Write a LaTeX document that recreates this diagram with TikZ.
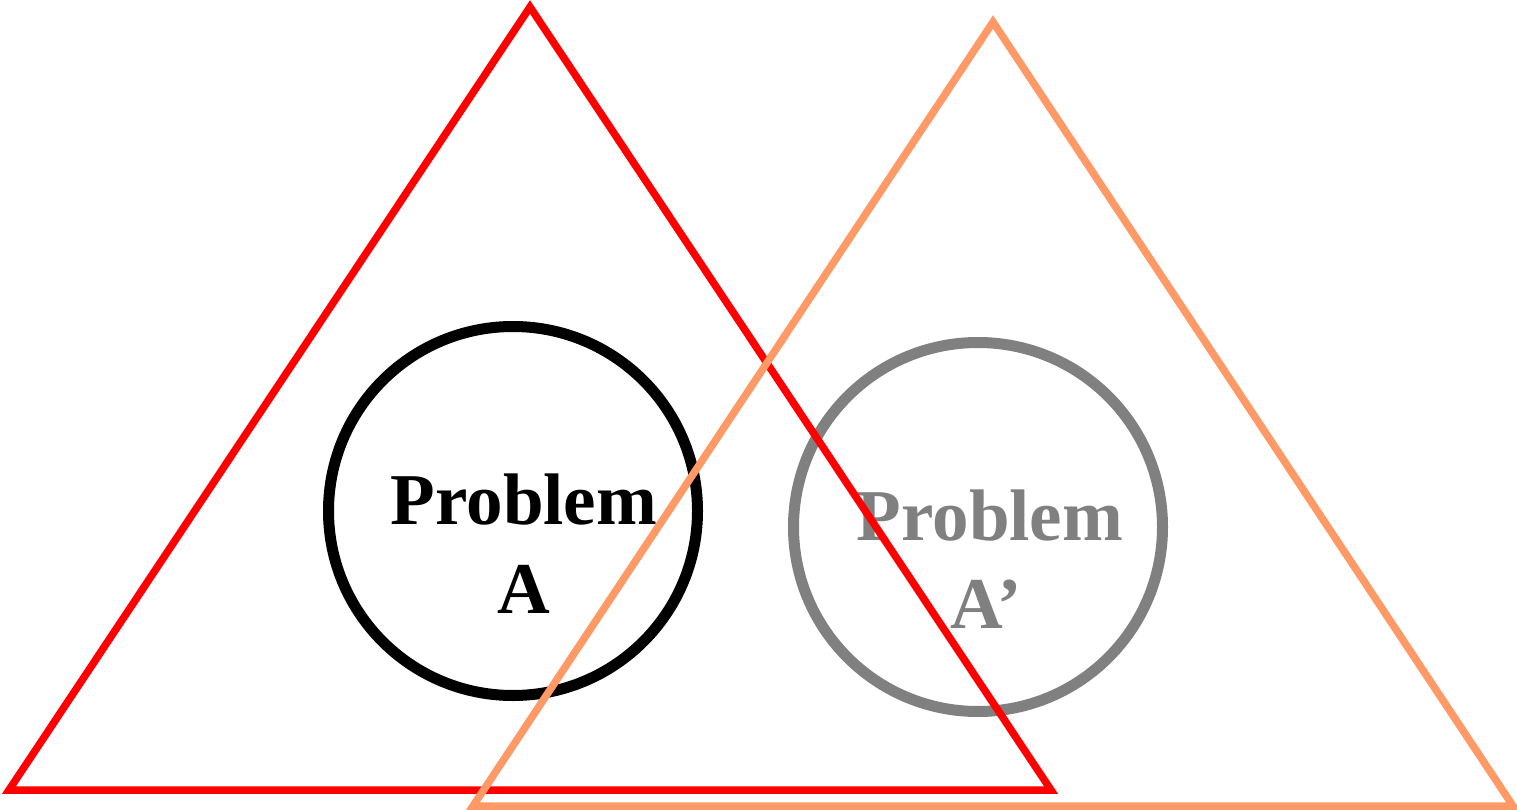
\documentclass[tikz,border=0pt]{standalone}
\usepackage{fontspec}
\setmainfont{Liberation Serif}[BoldFont={Liberation Serif Bold},UprightFont={Liberation Serif}]
\definecolor{tri2}{RGB}{255,153,102}
\definecolor{gr}{RGB}{128,128,128}
\begin{document}
\begin{tikzpicture}[x=1pt,y=-1pt,
  ring/.style={circle,draw,line width=11pt,minimum size=369pt,inner sep=0pt},
  lbl/.style={anchor=base,inner sep=0pt,font=\fontsize{73}{89}\selectfont\bfseries\upshape},
  tri/.style={line width=7.5pt,line join=miter}]
\useasboundingbox (0,0) rectangle (1517,810);
% gray circle and text
\node[ring,draw=gr] (cb) at (978,527) {};
\node[lbl,text=gr] (pb1) at (990,540) {Problem};
\node[lbl,text=gr] (pb2) at (986,628) {A’};
% black circle and text
\node[ring,draw=black] (ca) at (513,511) {};
\node[lbl] (pa1) at (524,524) {Problem};
\node[lbl] (pa2) at (524,613) {A};
% red triangle
\coordinate (r1) at (530,7);
\coordinate (r2) at (9,790);
\coordinate (r3) at (1051,790);
\draw[tri,red] (r1) -- (r2) -- (r3) -- cycle;
% orange triangle
\coordinate (o1) at (993,22);
\coordinate (o2) at (473,806);
\coordinate (o3) at (1513,806);
\draw[tri,tri2] (o1) -- (o2) -- (o3) -- cycle;
\end{tikzpicture}
\end{document}
